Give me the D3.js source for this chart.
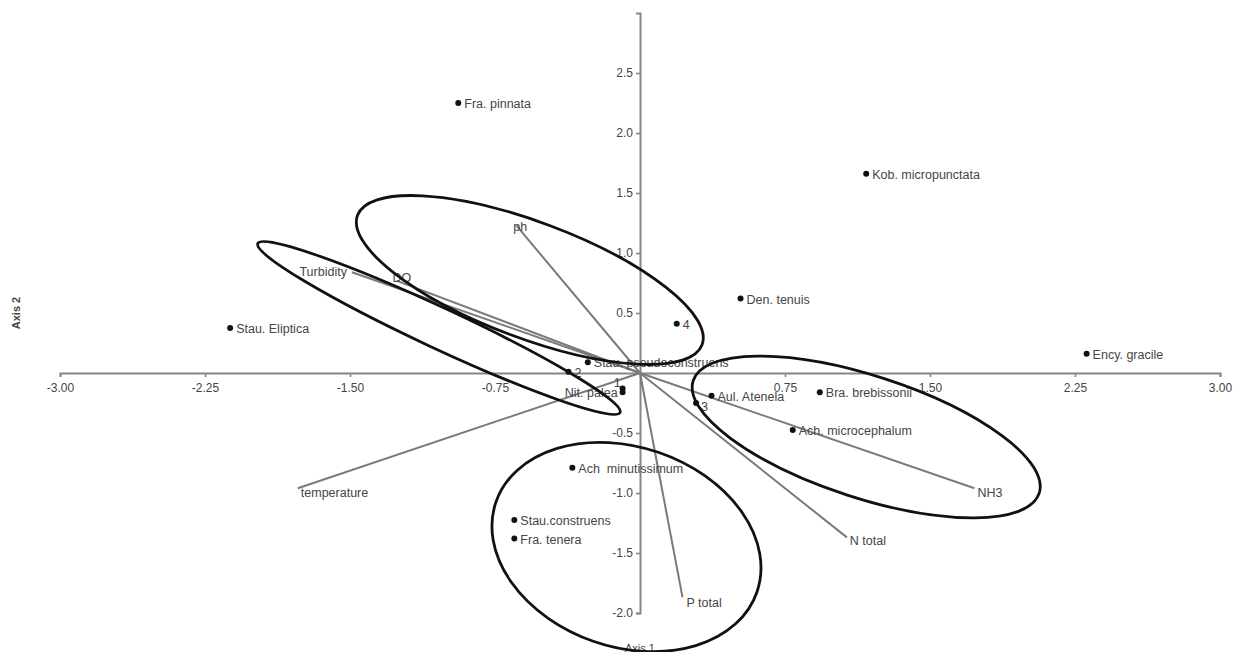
<!DOCTYPE html>
<html>
<head>
<meta charset="utf-8">
<script src="https://cdn.jsdelivr.net/npm/d3@7/dist/d3.min.js"></script>
<style>
  html, body { margin: 0; padding: 0; background: #fff; }
  svg { display: block; }
  text { font-family: "Liberation Sans", Arial, Helvetica, sans-serif; fill: #454545; }
</style>
</head>
<body>
<svg id="chart" width="1239" height="652"></svg>
<script>
// Ordination biplot: species scores, site scores and environmental vectors

// Species scores (Axis 1, Axis 2)
const speciesNames = ["Fra. pinnata", "Kob. micropunctata", "Den. tenuis", "Ency. gracile",
  "Stau. Eliptica", "Stau. pseudoconstruens", "Nit. palea", "Aul. Atenela",
  "Bra. brebissonii", "Ach. microcephalum", "Ach  minutissimum", "Stau.construens", "Fra. tenera"];
const speciesAxis1 = [-0.94, 1.17, 0.52, 2.31, -2.12, -0.27, -0.09, 0.37, 0.93, 0.79, -0.35, -0.65, -0.65];
const speciesAxis2 = [2.25, 1.66, 0.62, 0.16, 0.375, 0.09, -0.16, -0.19, -0.16, -0.475, -0.79, -1.225, -1.38];

// Site scores
const siteNames = ["1", "2", "3", "4"];
const siteAxis1 = [-0.09, -0.37, 0.29, 0.19];
const siteAxis2 = [-0.13, 0.01, -0.25, 0.41];

// Environmental variable vectors (arrow tips)
const envNames = ["ph", "DO", "Turbidity", "temperature", "P total", "N total", "NH3"];
const envAxis1 = [-0.64, -1.26, -1.49, -1.77, 0.22, 1.07, 1.73];
const envAxis2 = [1.23, 0.77, 0.84, -0.96, -1.87, -1.37, -0.96];

// Hand-drawn grouping ellipses: centre (axis units), semi-axes (axis-1 units), tilt (deg)
const groupCx = [-0.57, -1.04, 1.17, -0.07];
const groupCy = [0.775, 0.375, -0.533, -1.45];
const groupRx = [0.952, 1.034, 0.941, 0.714];
const groupRy = [0.300, 0.105, 0.316, 0.517];
const groupTilt = [20.6, 25, 18, 19];

// Tick labels
const xTickValues = [-3, -2.25, -1.5, -0.75, 0.75, 1.5, 2.25, 3];
const yTickValues = [2.5, 2, 1.5, 1, 0.5, -0.5, -1, -1.5, -2];

const svg = d3.select("#chart");
const x = d3.scaleLinear().domain([-3, 3]).range([60, 1220]);
const y = d3.scaleLinear().domain([-2, 3]).range([613, 13]);
const pxPerUnitX = x(1) - x(0);

const axisColor = "#868686";
const vecColor = "#7a7a7a";

// plain hyphen for negative tick labels
const fmt = p => v => v.toFixed(p);

// Axes crossing at the origin
const xAxis = svg.append("g").attr("transform", `translate(0,${y(0)})`)
  .call(d3.axisBottom(x).tickValues(xTickValues).tickFormat(fmt(2)).tickSize(4).tickPadding(6));
const yAxis = svg.append("g").attr("transform", `translate(${x(0)},0)`)
  .call(d3.axisLeft(y).tickValues(yTickValues).tickFormat(fmt(1)).tickSize(4).tickPadding(3));
[xAxis, yAxis].forEach(g => {
  g.select(".domain").attr("stroke", axisColor).attr("stroke-width", 2);
  g.selectAll(".tick line").attr("stroke", axisColor).attr("stroke-width", 1.6);
  g.selectAll(".tick text").attr("font-size", 12).attr("fill", "#4a4a4a")
    .attr("font-family", "Liberation Sans, Arial, sans-serif");
});

// Axis titles
svg.append("text").attr("x", x(0)).attr("y", 652).attr("text-anchor", "middle")
  .attr("font-size", 11).text("Axis 1");
svg.append("text").attr("transform", `translate(20,${y(0.5)}) rotate(-90)`)
  .attr("text-anchor", "middle").attr("font-size", 11).attr("font-weight", "bold").text("Axis 2");

// Environmental vectors
const envLabelPlace = {
  "ph": { dx: -3, dy: 6, anchor: "start" },
  "DO": { dx: -4, dy: 1, anchor: "start" },
  "Turbidity": { dx: -5, dy: 4, anchor: "end" },
  "temperature": { dx: 3, dy: 9, anchor: "start" },
  "P total": { dx: 4, dy: 10, anchor: "start" },
  "N total": { dx: 3, dy: 8, anchor: "start" },
  "NH3": { dx: 3, dy: 9, anchor: "start" }
};
const env = envNames.map((n, i) => ({ name: n, a1: envAxis1[i], a2: envAxis2[i] }));
svg.append("g").selectAll("line").data(env).join("line")
  .attr("x1", x(0)).attr("y1", y(0))
  .attr("x2", d => x(d.a1)).attr("y2", d => y(d.a2))
  .attr("stroke", vecColor).attr("stroke-width", 2);
svg.append("g").selectAll("text").data(env).join("text")
  .attr("x", d => x(d.a1) + envLabelPlace[d.name].dx)
  .attr("y", d => y(d.a2) + envLabelPlace[d.name].dy)
  .attr("text-anchor", d => envLabelPlace[d.name].anchor)
  .attr("font-size", 12.5).text(d => d.name);

// Species and site points
const species = speciesNames.map((n, i) => ({ name: n, a1: speciesAxis1[i], a2: speciesAxis2[i] }));
const sites = siteNames.map((n, i) => ({ name: n, a1: siteAxis1[i], a2: siteAxis2[i] }));
const labelPlace = {
  "Nit. palea": { dx: -5, dy: 5, anchor: "end" },
  "1": { dx: -2, dy: -2, anchor: "end" },
  "3": { dx: 5, dy: 8, anchor: "start" }
};
const place = d => labelPlace[d.name] || { dx: 6, dy: 5, anchor: "start" };
const pts = svg.append("g");
pts.selectAll("circle").data(species.concat(sites)).join("circle")
  .attr("cx", d => x(d.a1)).attr("cy", d => y(d.a2)).attr("r", 3).attr("fill", "#111");
pts.selectAll("text").data(species.concat(sites)).join("text")
  .attr("x", d => x(d.a1) + place(d).dx).attr("y", d => y(d.a2) + place(d).dy)
  .attr("text-anchor", d => place(d).anchor)
  .attr("font-size", 12.5).style("white-space", "pre").attr("xml:space", "preserve")
  .text(d => d.name);

// Grouping ellipses
const groups = groupCx.map((c, i) => ({ cx: c, cy: groupCy[i], rx: groupRx[i], ry: groupRy[i], tilt: groupTilt[i] }));
svg.append("g").selectAll("ellipse").data(groups).join("ellipse")
  .attr("cx", 0).attr("cy", 0)
  .attr("rx", d => d.rx * pxPerUnitX).attr("ry", d => d.ry * pxPerUnitX)
  .attr("transform", d => `translate(${x(d.cx)},${y(d.cy)}) rotate(${d.tilt})`)
  .attr("fill", "none").attr("stroke", "#111").attr("stroke-width", 2.8);
</script>
</body>
</html>
